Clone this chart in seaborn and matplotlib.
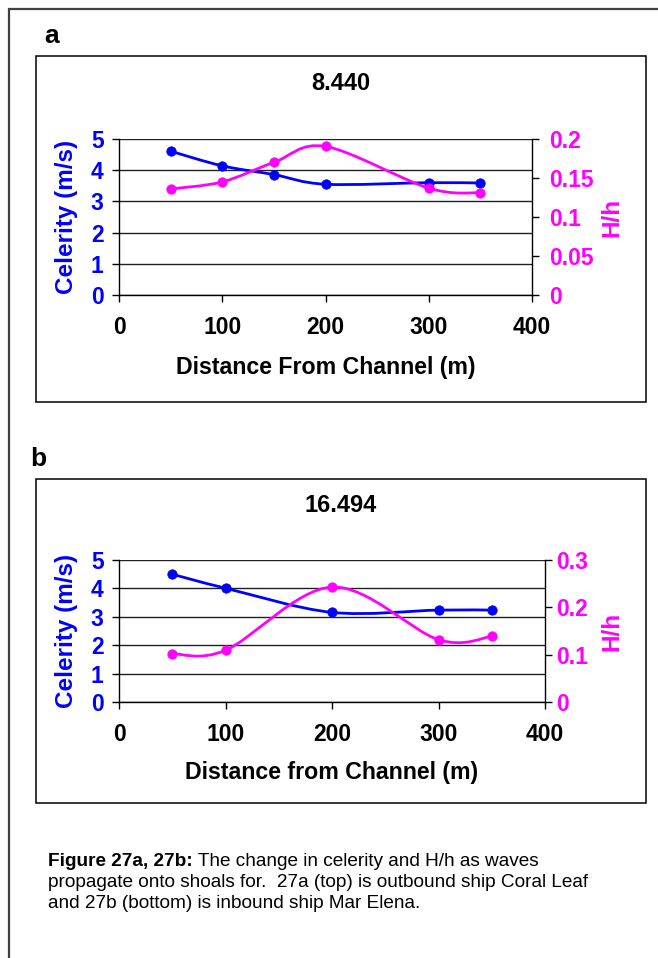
import numpy as np
import pandas as pd
import matplotlib
matplotlib.use("Agg")
import matplotlib.pyplot as plt
import seaborn as sns
from matplotlib.path import Path
from matplotlib.patches import PathPatch, Rectangle
from matplotlib.lines import Line2D

# ---------------- data ----------------
dist_a = [50, 100, 150, 200, 300, 350]
celerity_a = [4.61, 4.14, 3.86, 3.55, 3.60, 3.59]
hh_a = [0.136, 0.145, 0.170, 0.1905, 0.137, 0.131]

dist_b = [50, 100, 200, 300, 350]
celerity_b = [4.50, 4.01, 3.16, 3.24, 3.24]
hh_b = [0.1025, 0.1096, 0.243, 0.132, 0.139]

title_a = "8.440"
title_b = "16.494"
xlabel_a = "Distance From Channel (m)"
xlabel_b = "Distance from Channel (m)"
ylabel_left = "Celerity (m/s)"
ylabel_right = "H/h"
xticks = [0, 100, 200, 300, 400]
yticks_left = [0, 1, 2, 3, 4, 5]
yticks_right_a = [0, 0.05, 0.1, 0.15, 0.2]
yticklabels_right_a = ["0", "0.05", "0.1", "0.15", "0.2"]
yticks_right_b = [0, 0.1, 0.2, 0.3]
yticklabels_right_b = ["0", "0.1", "0.2", "0.3"]

caption_bold = "Figure 27a, 27b:"
caption_line1 = " The change in celerity and H/h as waves"
caption_line2 = "propagate onto shoals for.  27a (top) is outbound ship Coral Leaf"
caption_line3 = "and 27b (bottom) is inbound ship Mar Elena."

BLUE = "#0000FF"
MAG = "#FF00FF"

sns.set_theme(style="white")
plt.rcParams["font.family"] = ["Liberation Sans", "DejaVu Sans"]
plt.rcParams["font.weight"] = "bold"
plt.rcParams["text.color"] = "black"
plt.rcParams["axes.labelcolor"] = "black"
plt.rcParams["xtick.color"] = "black"
plt.rcParams["ytick.color"] = "black"

W, H = 658, 958
fig = plt.figure(figsize=(W / 100, H / 100), dpi=100)
fig.patch.set_facecolor("white")

TICK_FS = 16.5
LABEL_FS = 17.5


def fx(px):
    return px / W


def fy(py):
    return 1 - py / H


def smooth_patch(ax, xs, ys, color):
    """Excel-style smoothed line: cubic Bezier segments built from the data points."""
    pts = np.column_stack([xs, ys]).astype(float)
    n = len(pts)
    verts = [pts[0]]
    codes = [Path.MOVETO]
    for i in range(n - 1):
        p0 = pts[i - 1] if i > 0 else pts[i]
        p1 = pts[i]
        p2 = pts[i + 1]
        p3 = pts[i + 2] if i + 2 < n else pts[i + 1]
        c1 = p1 + (p2 - p0) / 6.0
        c2 = p2 - (p3 - p1) / 6.0
        verts += [c1, c2, p2]
        codes += [Path.CURVE4] * 3
    patch = PathPatch(Path(verts, codes), facecolor="none", edgecolor=color,
                      lw=2.0, transform=ax.transData, zorder=3, clip_on=False,
                      capstyle="round", joinstyle="round")
    ax.add_patch(patch)


def panel(rect, dist, cel, hh, rticks, rlabels, rmax, xlabel, xlab_y, ylab_lx, ylab_rx, rpad):
    ax = fig.add_axes(rect)
    ax.set_facecolor("none")
    ax.set_xlim(0, 400)
    ax.set_ylim(0, 5)
    ax.set_xticks(xticks)
    ax.set_yticks(yticks_left)
    ax.yaxis.grid(True, color="#202020", lw=1.0)
    ax.xaxis.grid(False)
    for s in ["left", "bottom"]:
        ax.spines[s].set_visible(True)
        ax.spines[s].set_color("black")
        ax.spines[s].set_linewidth(1.0)
    ax.spines["top"].set_visible(False)
    ax.spines["right"].set_visible(False)
    ax.tick_params(axis="y", direction="out", length=5, width=1, color="black",
                   labelsize=TICK_FS, labelcolor=BLUE, pad=6, left=True)
    ax.tick_params(axis="x", direction="out", length=5, width=1, color="black",
                   labelsize=TICK_FS, labelcolor="black", pad=10, bottom=True)
    ax.set_xlabel(xlabel, fontsize=16.7, fontweight="bold", color="black")
    ax.xaxis.set_label_coords(0.5, xlab_y)
    ax.xaxis.label.set_va("center")
    ax.set_ylabel(ylabel_left, fontsize=LABEL_FS, fontweight="bold", color=BLUE)
    ax.yaxis.set_label_coords(ylab_lx, 0.5)
    ax.yaxis.label.set_va("center")

    ax2 = ax.twinx()
    ax2.set_ylim(0, rmax)
    ax2.set_yticks(rticks)
    ax2.set_yticklabels(rlabels)
    for s in ["left", "top", "bottom"]:
        ax2.spines[s].set_visible(False)
    ax2.spines["right"].set_visible(True)
    ax2.spines["right"].set_color("black")
    ax2.spines["right"].set_linewidth(1.0)
    ax2.grid(False)
    ax2.tick_params(axis="y", direction="out", length=5, width=1, color="black",
                    labelsize=TICK_FS, labelcolor=MAG, pad=rpad, right=True)
    ax2.set_ylabel(ylabel_right, fontsize=LABEL_FS, fontweight="bold", color=MAG, rotation=90)
    ax2.yaxis.set_label_coords(ylab_rx, 0.5)
    ax2.yaxis.label.set_va("center")

    # series
    smooth_patch(ax, dist, cel, BLUE)
    sns.scatterplot(x=dist, y=cel, ax=ax, color=BLUE, edgecolor=BLUE, s=46,
                    zorder=4, clip_on=False, legend=False)
    smooth_patch(ax2, dist, hh, MAG)
    sns.scatterplot(x=dist, y=hh, ax=ax2, color=MAG, edgecolor=MAG, s=46,
                    zorder=4, clip_on=False, legend=False)
    ax2.set_ylim(0, rmax)
    ax.set_ylim(0, 5)
    ax.set_xlim(0, 400)
    return ax, ax2


# panel a
panel([fx(119), fy(295), fx(532) - fx(119), fy(139) - fy(295)],
      dist_a, celerity_a, hh_a, yticks_right_a, yticklabels_right_a, 0.2,
      xlabel_a, -0.465, -0.128, 1.194, 7)
# panel b
panel([fx(119), fy(702.3), fx(545) - fx(119), fy(560) - fy(702.3)],
      dist_b, celerity_b, hh_b, yticks_right_b, yticklabels_right_b, 0.3,
      xlabel_b, -0.49, -0.124, 1.156, 3)

# frames
fig.add_artist(Line2D([fx(9), 1.0], [fy(9), fy(9)], transform=fig.transFigure,
                      color="#404040", lw=1.6))
fig.add_artist(Line2D([fx(9), fx(9)], [fy(9), 0.0], transform=fig.transFigure,
                      color="#404040", lw=1.6))
fig.add_artist(Rectangle((fx(36), fy(401.5)), fx(646) - fx(36), fy(56) - fy(401.5),
                         transform=fig.transFigure, fill=False, ec="black", lw=1.1))
fig.add_artist(Rectangle((fx(36), fy(803.3)), fx(646) - fx(36), fy(479.3) - fy(803.3),
                         transform=fig.transFigure, fill=False, ec="black", lw=1.1))

# titles and panel letters
fig.text(fx(341), fy(83), title_a, ha="center", va="center", fontsize=LABEL_FS - 0.5, fontweight="bold")
fig.text(fx(341), fy(506), title_b, ha="center", va="center", fontsize=LABEL_FS - 0.5, fontweight="bold")
fig.text(fx(52), fy(36), "a", ha="center", va="center", fontsize=19, fontweight="bold")
fig.text(fx(38), fy(459), "b", ha="center", va="center", fontsize=19, fontweight="bold")

# caption
fig.canvas.draw()
renderer = fig.canvas.get_renderer()
t_bold = fig.text(fx(48), fy(862), caption_bold, ha="left", va="center",
                  fontsize=13.7, fontweight="bold")
bb = t_bold.get_window_extent(renderer=renderer)
fig.text(bb.x1 / W, fy(862), caption_line1, ha="left", va="center",
         fontsize=13.7, fontweight="normal")
fig.text(fx(48), fy(882.5), caption_line2, ha="left", va="center",
         fontsize=13.7, fontweight="normal")
fig.text(fx(48), fy(903), caption_line3, ha="left", va="center",
         fontsize=13.7, fontweight="normal")

fig.savefig("out.png", dpi=100, facecolor="white")
